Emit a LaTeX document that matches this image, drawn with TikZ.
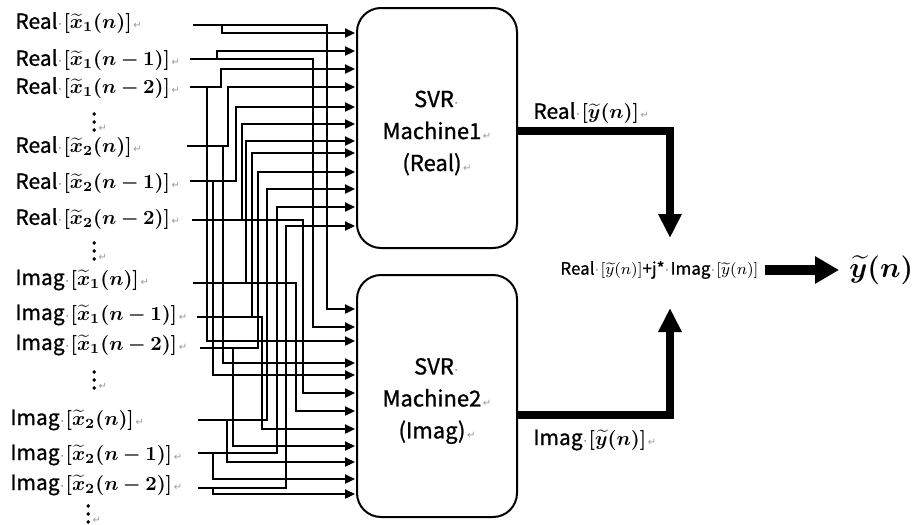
\documentclass[tikz,border=0pt]{standalone}
\usepackage[no-math]{fontspec}
\setmainfont{Noto Sans CJK SC}[FakeBold=1.0]
\newfontfamily\djv{DejaVu Sans}
\usepackage{amsmath}
\usepackage{bm}
\usetikzlibrary{arrows.meta}
\newcommand\mk{{\djv\color{black!40}\fontsize{5}{6}\selectfont\,↵}}
\newcommand\md{{\djv\color{black!60}\fontsize{6}{6}\selectfont\kern0.3pt·\kern0.8pt}}
\newcommand\mth[1]{{\fontsize{10.3}{11}\selectfont$\bm{#1}$}}
\begin{document}
\begin{tikzpicture}[x=0.5pt,y=-0.5pt,
  wire/.style={line width=1.15pt,-{Triangle[length=5pt,width=4.5pt]}},
  lbl/.style={anchor=west,inner sep=0pt,font=\fontsize{10.5}{12}\selectfont},
  dts/.style={anchor=west,inner sep=0pt,font=\fontsize{8}{9}\selectfont},
  boxm/.style={draw,line width=1pt,rounded corners=12pt,minimum width=80pt,minimum height=120pt},
  boxt/.style={align=center,inner sep=0pt,font=\fontsize{11}{16}\selectfont},
  outw/.style={line width=4pt,line join=miter,-{Triangle[length=12pt,width=11pt]}},
  bigw/.style={line width=5pt,-{Triangle[length=12pt,width=13pt]}}]
\useasboundingbox (0,0) rectangle (917,525);
% input labels
\node[lbl] (l1) at (15,23) {Real\md\mth{[\widetilde{x}_1(n)]}\mk};
\node[lbl] (l2) at (15,60) {Real\md\mth{[\widetilde{x}_1(n-1)]}\mk};
\node[lbl] (l3) at (15,88) {Real\md\mth{[\widetilde{x}_1(n-2)]}\mk};
\node[dts] (v1) at (91,116) {$\bm{\vdots}$\mk};
\node[lbl] (l4) at (15,147) {Real\md\mth{[\widetilde{x}_2(n)]}\mk};
\node[lbl] (l5) at (15,183) {Real\md\mth{[\widetilde{x}_2(n-1)]}\mk};
\node[lbl] (l6) at (15,219) {Real\md\mth{[\widetilde{x}_2(n-2)]}\mk};
\node[dts] (v2) at (91,245) {$\bm{\vdots}$\mk};
\node[lbl] (l7) at (15,280) {Imag\md\mth{[\widetilde{x}_1(n)]}\mk};
\node[lbl] (l8) at (15,315) {Imag\md\mth{[\widetilde{x}_1(n-1)]}\mk};
\node[lbl] (l9) at (15,345) {Imag\md\mth{[\widetilde{x}_1(n-2)]}\mk};
\node[dts] (v3) at (91,374) {$\bm{\vdots}$\mk};
\node[lbl] (l10) at (10,420) {Imag\md\mth{[\widetilde{x}_2(n)]}\mk};
\node[lbl] (l11) at (10,455) {Imag\md\mth{[\widetilde{x}_2(n-1)]}\mk};
\node[lbl] (l12) at (10,485) {Imag\md\mth{[\widetilde{x}_2(n-2)]}\mk};
\node[dts] (v4) at (85,508) {$\bm{\vdots}$\mk};
% machines
\node[boxm] (m1) at (437,128) {};
\node[boxm,minimum height=121pt] (m2) at (437,396) {};
\node[boxt] (t1) at (437,133) {SVR\md\\Machine1\mk\\(Real)\mk};
\node[boxt] (t2) at (437,401) {SVR\md\\Machine2\mk\\(Imag)\mk};
% wires
\foreach \i/\sx/\wy/\ba/\ya/\bb/\yb in {
 1/193/25/222/33/327/309, 2/190/59/217/51/313/327, 3/190/87/221/69/207/341,
 4/187/146/228/87/223/363, 5/190/181/236/107/213/375, 6/192/220/242/124/303/393,
 7/193/283/246/141/296/411, 8/197/317/252/153/262/429, 9/200/348/258/172/233/446,
 10/198/420/267/189/227/462, 11/198/453/277/207/213/479, 12/198/488/286/226/213/494}{
 \coordinate (s\i) at (\sx,\wy);
 \coordinate (r\i) at (355,\ya);
 \coordinate (q\i) at (355,\yb);
 \draw[wire] (s\i) -| (\ba,0 |- r\i) -- (r\i);
 \draw[wire] (s\i) -| (\bb,0 |- q\i) -- (q\i);
}
% outputs
\coordinate (o1) at (517,131);
\coordinate (d1) at (670,238);
\coordinate (o2) at (517,415);
\coordinate (u2) at (670,308);
\draw[outw] (o1) -| (d1);
\draw[outw] (o2) -| (u2);
\node[lbl] (y1) at (533,113) {Real\md\mth{[\widetilde{y}(n)]}\mk};
\node[lbl] (y2) at (533,440) {Imag\md\mth{[\widetilde{y}(n)]}\mk};
\node[anchor=west,inner sep=0pt,font=\fontsize{8.5}{10}\selectfont] (sum) at (560,270)
  {Real\md$[\widetilde{y}(n)]$+j*\md Imag\md$[\widetilde{y}(n)]$};
\node[anchor=west,inner sep=0pt,font=\fontsize{15}{18}\selectfont] (yt) at (849,270) {$\bm{\widetilde{y}(n)}$};
\draw[bigw] ([xshift=3pt]sum.east) -- ([xshift=-5pt]yt.west);
\end{tikzpicture}
\end{document}
